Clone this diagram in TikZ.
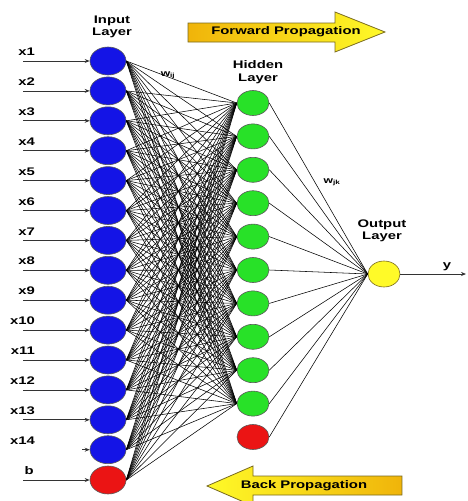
\documentclass[tikz,border=0pt]{standalone}
\usepackage{fontspec}
\setmainfont{Liberation Sans}
\newfontfamily\lblfont[FakeStretch=1.35]{Liberation Sans}
\usetikzlibrary{arrows.meta,shapes.geometric,calc}

\definecolor{inblue}{RGB}{20,20,230}
\definecolor{hidgreen}{RGB}{40,225,40}
\definecolor{biasred}{RGB}{235,20,20}
\definecolor{outyellow}{RGB}{255,250,40}
\definecolor{gold}{RGB}{240,180,10}
\definecolor{olive}{RGB}{120,105,30}

\begin{document}
\begin{tikzpicture}
  [x=1pt,y=-1pt,
   neuron/.style={ellipse,draw=black!65,line width=0.6pt,inner sep=0pt},
   inp/.style={neuron,fill=inblue,minimum width=36pt,minimum height=28pt},
   hid/.style={neuron,fill=hidgreen,minimum width=32pt,minimum height=25pt},
   outp/.style={neuron,fill=outyellow,draw=olive,minimum width=32pt,minimum height=26pt},
   lbl/.style={font=\lblfont\bfseries\fontsize{11}{12.5}\selectfont,inner sep=0pt,align=center},
   wlbl/.style={font=\lblfont\bfseries\fontsize{9}{10}\selectfont,inner sep=0pt},
   wire/.style={line width=0.55pt,black},
   feed/.style={draw=black!80,line width=0.8pt,-{Stealth[length=5pt,width=4pt]}},
   prop/.style={draw=olive,line width=0.8pt}]
  \useasboundingbox (0,0) rectangle (467,501);

  % input layer
  \foreach \i in {1,...,14}
    \node[inp] (i\i) at (108,{61+29.9*(\i-1)}) {};
  \node[inp,fill=biasred] (i15) at (108,480) {};

  % input labels and arrows
  \foreach \i in {1,...,13} {
    \coordinate (s\i) at (23,{61+29.9*(\i-1)});
    \node[lbl,anchor=south east] (l\i) at ($(s\i)+(12,-5)$) {x\i};
    \draw[feed] (s\i) -- (i\i.west);
  }
  \coordinate (s14) at (82,{61+29.9*13});
  \node[lbl,anchor=south east] (l14) at (35,{61+29.9*13-5}) {x14};
  \draw[feed] (s14) -- (i14.west);
  \coordinate (s15) at (23,480);
  \node[lbl,anchor=south east] (l15) at (34,475) {b};
  \draw[feed] (s15) -- (i15.west);

  % hidden layer
  \foreach \j in {1,...,10}
    \node[hid] (h\j) at (253,{103+33.4*(\j-1)}) {};
  \node[hid,fill=biasred] (h11) at (253,437) {};

  % output layer
  \node[outp] (o) at (384,274) {};

  % weights
  \foreach \i in {1,...,15}
    \foreach \j in {1,...,10}
      \draw[wire] (i\i.east) -- (h\j.west);
  \foreach \j in {1,...,11}
    \draw[wire] (h\j.east) -- (o.west);

  \coordinate (yend) at (466,274);
  \draw[feed] (o.east) -- (yend);
  \node[lbl] (ylbl) at (447,267) {y};

  % layer titles
  \node[lbl] (intitle) at (112,27) {Input\\Layer};
  \node[lbl] (hidtitle) at (258,72) {Hidden\\Layer};
  \node[lbl] (outtitle) at (382,231) {Output\\Layer};
  \node[wlbl] (wij) at (168,75) {w\textsubscript{ij}};
  \node[wlbl] (wjk) at (332,182) {w\textsubscript{jk}};

  % propagation arrows
  \shade[prop,left color=gold,right color=outyellow]
    (188,23) -- (335,23) -- (335,12) -- (385,32) -- (335,52) -- (335,42) -- (188,42) -- cycle;
  \node[lbl] (fwd) at (286,32) {Forward Propagation};
  \shade[prop,left color=outyellow,right color=gold]
    (402,476) -- (253,476) -- (253,466) -- (207,486) -- (253,506) -- (253,495) -- (402,495) -- cycle;
  \node[lbl] (back) at (304,486) {Back Propagation};
\end{tikzpicture}
\end{document}
